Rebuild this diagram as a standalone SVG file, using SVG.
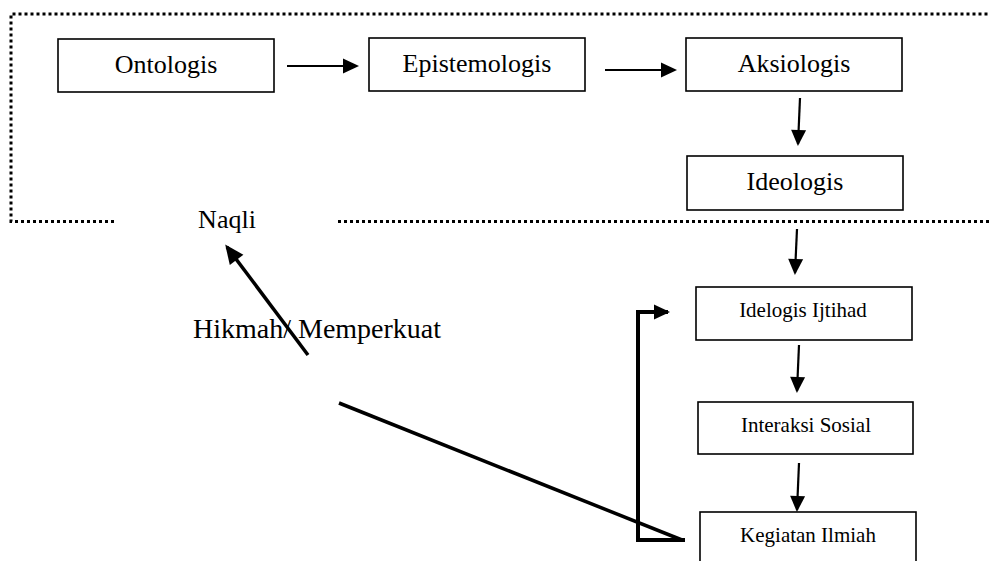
<svg xmlns="http://www.w3.org/2000/svg" width="989" height="561" viewBox="0 0 989 561">
<style>
.box{fill:#fff;stroke:#000;stroke-width:1.6}
.t{font-family:"Liberation Serif","Times New Roman",serif;fill:#000;text-anchor:middle}
.big{font-size:26px}
.sm{font-size:21px}
.ar{stroke:#000;stroke-width:2.2;fill:none;marker-end:url(#head)}
.thick{stroke:#000;stroke-width:4;fill:none}
.dot{stroke:#000;stroke-width:3;fill:none;stroke-dasharray:3 3}
</style>
<defs>
<marker id="head" markerUnits="userSpaceOnUse" markerWidth="16" markerHeight="16" refX="14" refY="7.5" orient="auto" overflow="visible">
<path d="M0,0 L16,7.5 L0,15 Z" fill="#000"/>
</marker>
<marker id="headBig" markerUnits="userSpaceOnUse" markerWidth="19" markerHeight="17" refX="16" refY="8.5" orient="auto" overflow="visible">
<path d="M0,0 L19,8.5 L0,17 Z" fill="#000"/>
</marker>
</defs>
<rect width="989" height="561" fill="#fff"/>
<g id="border">
<path class="dot" d="M114,221.5 H11 V14 H989"/>
<path class="dot" d="M338,221.5 H989"/>
</g>
<g id="ontologis"><rect class="box" x="58" y="39" width="216" height="53"/><text class="t big" x="166" y="73">Ontologis</text></g>
<g id="epistemologis"><rect class="box" x="369" y="38" width="216" height="53"/><text class="t big" x="477" y="72">Epistemologis</text></g>
<g id="aksiologis"><rect class="box" x="686" y="38" width="216" height="53"/><text class="t big" x="794" y="72">Aksiologis</text></g>
<g id="ideologis"><rect class="box" x="687" y="156" width="216" height="54"/><text class="t big" x="795" y="190">Ideologis</text></g>
<g id="naqli"><text class="t big" x="227" y="228">Naqli</text></g>
<g id="hikmah"><text class="t" style="font-size:28px;text-anchor:start" x="193" y="338">Hikmah/ Memperkuat</text></g>
<g id="ijtihad"><rect class="box" x="696" y="287" width="216" height="53"/><text class="t sm" x="803" y="317">Idelogis Ijtihad</text></g>
<g id="interaksi"><rect class="box" x="698" y="402" width="215" height="52"/><text class="t sm" x="806" y="432">Interaksi Sosial</text></g>
<g id="kegiatan"><rect class="box" x="700" y="512" width="216" height="60"/><text class="t sm" x="808" y="542">Kegiatan Ilmiah</text></g>
<g id="connectors">
<line class="ar" x1="287" y1="66" x2="357" y2="66"/>
<line class="ar" x1="605" y1="70" x2="675" y2="70"/>
<line class="ar" x1="800" y1="98" x2="798" y2="144"/>
<line class="ar" x1="797" y1="229" x2="795" y2="273"/>
<line class="ar" x1="799" y1="345" x2="797" y2="391"/>
<line class="ar" x1="799" y1="463" x2="797" y2="510"/>
<path class="thick" d="M685,540 H638 V312 H668" marker-end="url(#head)"/>
<line class="thick" style="stroke-width:3.5" x1="339" y1="403" x2="682" y2="540"/>
<line class="thick" style="stroke-width:3.5" x1="308" y1="355" x2="227" y2="247" marker-end="url(#headBig)"/>
</g>
</svg>
